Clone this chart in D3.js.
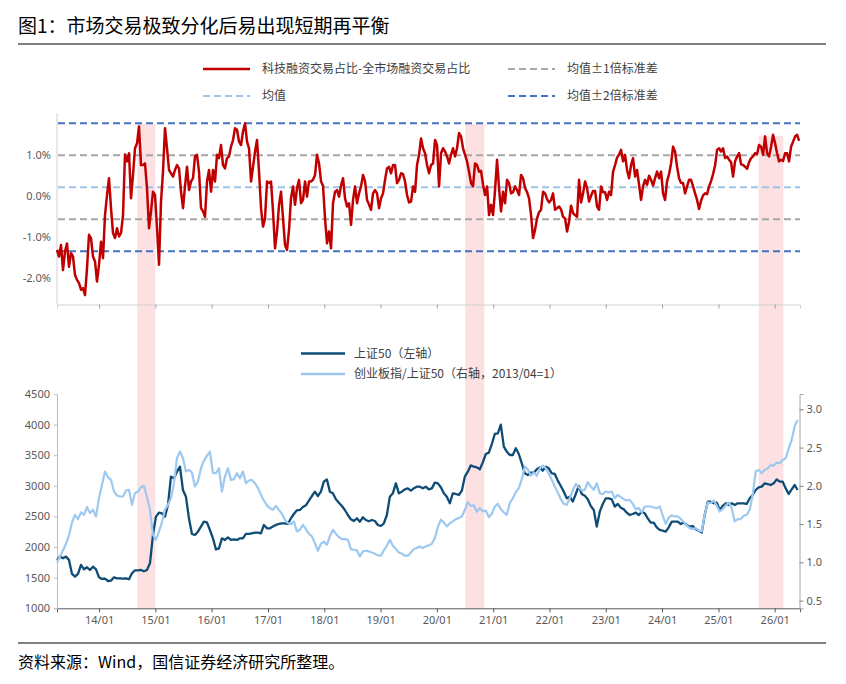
<!DOCTYPE html>
<html><head><meta charset="utf-8">
<script src="https://cdn.jsdelivr.net/npm/d3@7"></script>
<style>body{margin:0;background:#fff}svg{display:block}</style>
</head><body><svg id="c" width="846" height="684"></svg>
<script>
// ---------- DATA ----------
const titleText = "图1：市场交易极致分化后易出现短期再平衡";
const sourceText = "资料来源：Wind，国信证券经济研究所整理。";
const spreadName = "科技融资交易占比-全市场融资交易占比";
const sd1Name = "均值±1倍标准差", meanName = "均值", sd2Name = "均值±2倍标准差";
const sz50Name = "上证50（左轴）", ratioName = "创业板指/上证50（右轴，2013/04=1）";

// spread (%), evenly spaced samples from spreadStart to spreadEnd
const spreadStart = "2013-04-03", spreadEnd = "2026-06-08";
const spreadValues = [
-1.31,-1.47,-1.19,-1.80,-1.35,-1.15,-1.72,-1.39,-1.47,-1.92,
-2.04,-2.12,-2.28,-2.24,-2.41,-1.76,-0.94,-1.02,-1.47,-1.59,
-2.08,-1.67,-1.11,-1.51,-0.46,0.03,0.44,-0.29,-0.90,-1.02,
-0.78,-0.98,-0.90,-0.46,1.02,0.85,1.05,-0.05,0.52,1.17,
1.29,1.70,0.76,0.76,0.80,0.19,-0.78,-0.37,0.11,0.03,
-0.78,-1.67,-0.13,0.60,1.66,1.17,0.64,0.56,0.48,0.64,
0.76,0.68,0.11,-0.29,0.24,0.72,0.15,0.36,0.44,0.97,
1.01,0.60,-0.29,-0.37,-0.50,0.36,0.64,0.11,0.64,0.36,
1.01,0.93,1.25,0.76,0.68,0.93,0.97,1.21,1.37,1.66,
1.62,1.33,1.25,1.58,
1.78,1.33,1.17,0.36,0.72,1.09,1.37,0.60,-0.29,-0.74,
-0.54,0.36,0.32,0.36,-0.37,-1.27,-0.86,-0.21,0.11,-0.54,
-1.19,-1.31,-0.82,-0.05,0.24,-0.21,0.20,0.40,-0.17,-0.09,
0.36,-0.01,0.36,0.36,0.40,0.52,1.01,0.80,0.36,0.26,
-0.54,-1.15,-0.86,-1.27,-0.17,0.11,0.15,-0.01,0.26,0.44,
-0.05,-0.25,-0.17,-0.70,-0.09,0.24,-0.17,0.07,0.24,0.52,
0.36,-0.09,-0.20,-0.33,0.07,0.15,0.07,-0.29,-0.05,0.07,
0.40,0.68,0.72,0.56,0.76,0.76,0.32,0.40,0.56,0.54,
0.36,0.03,-0.15,-0.13,0.24,0.11,0.76,1.01,1.41,1.17,
1.05,0.76,0.56,
0.76,0.80,1.37,1.25,0.24,1.05,1.17,1.09,0.97,0.80,
1.01,1.17,0.97,1.17,1.54,1.46,1.17,1.01,0.85,0.60,
0.32,0.24,0.80,0.76,0.60,0.62,0.28,0.03,0.24,-0.46,
-0.21,-0.46,0.15,0.89,0.20,-0.37,0.11,-0.17,0.40,0.32,
0.07,0.10,0.24,0.15,0.03,0.52,0.44,0.20,0.10,-0.05,
-0.46,-1.02,-0.82,-0.54,-0.39,-0.33,0.11,0.07,-0.07,-0.15,
-0.09,0.07,-0.33,-0.29,-0.25,-0.32,-0.50,-0.54,-0.86,-0.62,
-0.23,-0.41,-0.46,-0.50,0.40,-0.15,0.07,0.36,0.20,-0.13,
0.01,0.13,0.13,-0.25,-0.33,0.24,0.10,0.10,-0.09,0.11,
0.03,0.60,
0.76,0.94,1.02,1.13,0.85,1.01,0.64,0.44,0.76,0.93,
0.48,0.64,0.28,-0.09,0.24,0.40,0.28,0.50,0.40,0.26,
0.44,0.60,0.44,0.60,0.07,-0.09,0.37,0.54,0.80,1.21,
1.09,0.72,0.44,0.32,0.32,0.07,0.24,0.40,0.40,0.24,
0.07,-0.09,-0.31,-0.11,0.02,0.07,0.05,0.24,0.37,0.54,
0.75,1.13,1.17,1.09,1.17,0.93,0.97,0.89,0.83,0.48,
0.85,0.97,1.05,0.78,0.76,0.72,0.67,0.83,0.93,0.97,
1.05,1.03,1.25,1.21,1.01,1.46,1.05,0.97,1.21,1.50,
1.29,1.05,0.85,0.89,0.86,1.05,1.05,0.85,1.21,1.33,
1.46,1.50,1.35
];
const spreadMean = 0.22, spreadStd = 0.78;

// index series, evenly spaced samples from idxStart to idxEnd
const idxStart = "2013-04-03", idxEnd = "2026-05-30";
const sz50Values = [
1789,1844,1816,1844,1789,1561,1517,1561,1708,1637,
1670,1626,1680,1637,1506,1479,1484,1446,1452,1506,
1490,1490,1484,1490,1474,1572,1620,1620,1626,1604,
1626,1735,2197,2497,2562,2551,2497,2687,3150,3123,
3232,3313,2932,2823,2470,2214,2197,2252,2334,2415,
2404,2279,2143,1963,1980,2143,2116,2159,2116,2127,
2116,2143,2143,2214,2214,2225,2236,2236,2225,2361,
2306,2306,2334,2361,2377,2388,2388,2377,2470,2540,
2600,2606,2655,2682,2758,2834,2905,2834,2905,3068,
3106,2905,2878,2780,2725,2671,2606,2524,2453,2426,
2470,2415,2486,2442,2421,2442,2426,2361,2344,2388,
2524,2823,2878,3041,2878,2905,2943,2959,2921,2959,
2987,2987,
2960,2987,2943,2959,3052,3041,2976,2878,2823,2715,
2878,2867,2851,2921,3150,3232,3335,3313,3302,3270,
3384,3520,3542,3683,3847,3858,4000,3640,3558,3504,
3504,3613,3520,3368,3204,3177,3215,3215,3270,3302,
3248,3313,3286,3204,3194,3085,2998,2905,2796,2823,
2742,2867,2998,2867,2840,2780,2671,2606,2334,2578,
2704,2796,2796,2780,2660,2704,2644,2617,2562,2524,
2540,2562,2524,2578,2551,2470,2399,2399,2323,2279,
2268,2252,2323,2415,2415,2415,2377,2399,2361,2334,
2344,2290,2268,2236,2524,2742,2742,2715,2725,2606,
2671,2715,2687,2715,2687,2715,2715,2715,2704,2796,
2851,2932,2976,2987,3041,3030,3014,3041,3106,3068,
3068,2959,2867,2943,3014,2932
];
const ratioValues = [
1.00,1.078,1.157,1.243,1.352,1.522,1.622,1.565,1.652,1.622,
1.722,1.644,1.687,1.600,1.839,2.013,2.187,2.113,2.078,1.926,
1.874,1.861,1.861,1.939,1.948,1.752,1.904,1.926,1.983,2.000,
1.852,1.687,1.361,1.296,1.404,1.522,1.687,1.752,1.839,2.035,
2.361,2.448,2.361,2.187,2.209,2.174,1.991,2.057,2.230,2.330,
2.391,2.448,2.165,2.165,2.230,1.926,2.122,2.230,2.078,2.087,
2.165,2.100,2.187,2.035,2.070,2.078,2.035,1.970,1.883,1.809,
1.744,1.709,1.687,1.739,1.687,1.635,1.557,1.513,1.500,1.535,
1.404,1.426,1.491,1.435,1.374,1.339,1.252,1.152,1.243,1.270,
1.230,1.339,1.426,1.374,1.330,1.304,1.304,1.296,1.174,1.165,
1.157,1.078,1.143,1.152,1.143,1.130,1.113,1.091,1.087,1.157,
1.217,1.296,1.217,1.174,1.130,1.113,1.087,1.087,1.130,1.174,
1.187,1.209,
1.187,1.209,1.222,1.243,1.317,1.461,1.557,1.522,1.470,1.513,
1.535,1.565,1.578,1.600,1.687,1.787,1.739,1.744,1.661,1.709,
1.665,1.678,1.591,1.635,1.730,1.765,1.696,1.652,1.622,1.774,
1.839,1.917,1.970,2.087,2.252,2.217,2.130,2.174,2.130,2.230,
2.265,2.230,2.157,2.078,1.991,1.913,1.826,1.765,1.752,1.839,
1.939,2.026,1.983,1.939,1.948,2.048,1.991,1.948,2.035,1.904,
1.891,1.926,1.913,1.926,1.839,1.883,1.852,1.826,1.809,1.817,
1.765,1.696,1.709,1.652,1.730,1.730,1.730,1.717,1.709,1.730,
1.609,1.504,1.587,1.613,1.600,1.600,1.570,1.526,1.483,1.448,
1.435,1.448,1.417,1.404,1.622,1.783,1.774,1.809,1.739,1.665,
1.696,1.744,1.783,1.709,1.535,1.565,1.565,1.609,1.622,1.687,
1.883,2.187,2.209,2.165,2.209,2.230,2.274,2.261,2.304,2.296,
2.339,2.361,2.491,2.600,2.783,2.861
];

// shaded periods
const bandStarts = ["2014-09-06", "2020-07-04", "2025-09-19"];
const bandEnds   = ["2015-01-01", "2020-11-04", "2026-02-26"];
const bandTops   = [1.76, 1.76, 1.47]; // in spread (%) units

const tickYears = ["2014","2015","2016","2017","2018","2019","2020","2021","2022","2023","2024","2025","2026"];
const spreadTicks = [1, 0, -1, -2];
const leftTicks = [1000,1500,2000,2500,3000,3500,4000,4500];
const rightTicks = [0.5,1.0,1.5,2.0,2.5,3.0];

// ---------- DRAW ----------
const parse = d3.timeParse("%Y-%m-%d");
const svg = d3.select("#c");
const cjk = "'Noto Sans CJK SC','Noto Sans',sans-serif";
const num = "'Noto Sans','Open Sans',sans-serif";

function spaced(vals, s, e) {
  const a = parse(s).getTime(), b = parse(e).getTime();
  return vals.map((v, i) => ({date: new Date(a + (b - a) * i / (vals.length - 1)), v}));
}
const spread = spaced(spreadValues, spreadStart, spreadEnd);
const sz50 = spaced(sz50Values, idxStart, idxEnd);
const ratio = spaced(ratioValues, idxStart, idxEnd);

const x = d3.scaleTime().domain([parse("2013-04-03"), parse("2026-06-14")]).range([57, 800]);
const yTop = d3.scaleLinear().domain([-2.64, 2.03]).range([304.5, 113]);
const yL = d3.scaleLinear().domain([1000, 4500]).range([608.3, 394]);
const yR = d3.scaleLinear().domain([0.4, 3.2]).range([608.3, 394]);
const tickDates = tickYears.map(y => parse(y + "-01-01"));

// title & rules
svg.append("text").attr("x", 18).attr("y", 33).text(titleText)
  .style("font-family", cjk).style("font-size", "19px").style("fill", "#000");
svg.append("line").attr("x1", 18).attr("x2", 826).attr("y1", 44).attr("y2", 44).attr("stroke", "#000").attr("stroke-width", 1.2);
svg.append("line").attr("x1", 18).attr("x2", 826).attr("y1", 643).attr("y2", 643).attr("stroke", "#000").attr("stroke-width", 1.2);
svg.append("text").attr("x", 18).attr("y", 668).text(sourceText)
  .style("font-family", cjk).style("font-size", "16px").style("fill", "#000");

// shaded bands (span both panels)
bandStarts.forEach((s, i) => {
  const x0 = x(parse(s)), x1 = x(parse(bandEnds[i]));
  svg.append("rect").attr("x", x0).attr("width", x1 - x0)
    .attr("y", yTop(bandTops[i])).attr("height", yL(1000) - yTop(bandTops[i]))
    .attr("fill", "#FDE0E2");
});

// ---- top panel ----
const gTopX = svg.append("g").attr("transform", "translate(0,304.5)")
  .call(d3.axisBottom(x).tickValues(tickDates).tickSize(4).tickFormat(""));
gTopX.select(".domain").attr("stroke", "#D0D0D0");
gTopX.selectAll(".tick line").attr("stroke", "#A0A0A0");

const gTopY = svg.append("g").attr("transform", "translate(57,0)")
  .call(d3.axisLeft(yTop).tickValues(spreadTicks).tickSize(0).tickPadding(6).tickFormat(d => d.toFixed(1) + "%"));
gTopY.select(".domain").attr("stroke", "#D0D0D0").attr("d", "M0,113V304.5");
gTopY.selectAll("text").style("font-family", num).style("font-size", "11px").style("fill", "#595959");

const statLines = [
  {v: spreadMean + 2 * spreadStd, c: "#4472C4"},
  {v: spreadMean - 2 * spreadStd, c: "#4472C4"},
  {v: spreadMean + spreadStd, c: "#A6A6A6"},
  {v: spreadMean - spreadStd, c: "#A6A6A6"},
  {v: spreadMean, c: "#9DC3E6"}
];
statLines.forEach(s => {
  svg.append("line").attr("x1", 58).attr("x2", 800).attr("y1", yTop(s.v)).attr("y2", yTop(s.v))
    .attr("stroke", s.c).attr("stroke-width", 2).attr("stroke-dasharray", "7,4");
});

svg.append("path").datum(spread)
  .attr("d", d3.line().x(d => x(d.date)).y(d => yTop(d.v)))
  .attr("fill", "none").attr("stroke", "#C00000").attr("stroke-width", 2.5).attr("stroke-linejoin", "round");

// top legend
const legTop = [
  {x: 203, y: 69, c: "#C00000", dash: null, w: 2.6, t: spreadName},
  {x: 508, y: 69, c: "#A6A6A6", dash: "7,4", w: 2, t: sd1Name},
  {x: 203, y: 96, c: "#9DC3E6", dash: "7,4", w: 2, t: meanName},
  {x: 508, y: 96, c: "#4472C4", dash: "7,4", w: 2, t: sd2Name}
];
legTop.forEach(l => {
  svg.append("line").attr("x1", l.x).attr("x2", l.x + 47).attr("y1", l.y).attr("y2", l.y)
    .attr("stroke", l.c).attr("stroke-width", l.w).attr("stroke-dasharray", l.dash);
  svg.append("text").attr("x", l.x + 59).attr("y", l.y + 4).text(l.t)
    .style("font-family", cjk).style("font-size", "12px").style("fill", "#404040");
});

// ---- bottom panel ----
const gBX = svg.append("g").attr("transform", "translate(0,608.3)")
  .call(d3.axisBottom(x).tickValues(tickDates).tickSize(4).tickPadding(4).tickFormat(d3.timeFormat("%y/%m")));
gBX.select(".domain").attr("stroke", "#595959");
gBX.selectAll(".tick line").attr("stroke", "#595959");
gBX.selectAll("text").style("font-family", num).style("font-size", "11px").style("fill", "#595959");

const gBL = svg.append("g").attr("transform", "translate(57,0)")
  .call(d3.axisLeft(yL).tickValues(leftTicks).tickSize(3).tickPadding(4).tickFormat(d3.format("d")));
gBL.select(".domain").attr("stroke", "#BFBFBF");
gBL.selectAll(".tick line").attr("stroke", "#BFBFBF");
gBL.selectAll("text").style("font-family", num).style("font-size", "11px").style("fill", "#595959");

const gBR = svg.append("g").attr("transform", "translate(799.5,0)")
  .call(d3.axisRight(yR).tickValues(rightTicks).tickSize(4).tickPadding(3).tickFormat(d3.format(".1f")));
gBR.select(".domain").attr("stroke", "#A6A6A6");
gBR.selectAll(".tick line").attr("stroke", "#808080");
gBR.selectAll("text").style("font-family", num).style("font-size", "11px").style("fill", "#595959");

svg.append("path").datum(sz50)
  .attr("d", d3.line().x(d => x(d.date)).y(d => yL(d.v)))
  .attr("fill", "none").attr("stroke", "#0E4C75").attr("stroke-width", 2.3).attr("stroke-linejoin", "round");
svg.append("path").datum(ratio)
  .attr("d", d3.line().x(d => x(d.date)).y(d => yR(d.v)))
  .attr("fill", "none").attr("stroke", "#9DC8F0").attr("stroke-width", 2.2).attr("stroke-linejoin", "round");

// bottom legend
const legBot = [
  {y: 353.5, c: "#0E4C75", t: sz50Name},
  {y: 374, c: "#9DC8F0", t: ratioName}
];
legBot.forEach(l => {
  svg.append("line").attr("x1", 301).attr("x2", 345).attr("y1", l.y).attr("y2", l.y)
    .attr("stroke", l.c).attr("stroke-width", 2.4);
  svg.append("text").attr("x", 354).attr("y", l.y + 4).text(l.t)
    .style("font-family", cjk).style("font-size", "12px").style("fill", "#404040");
});
</script></body></html>
